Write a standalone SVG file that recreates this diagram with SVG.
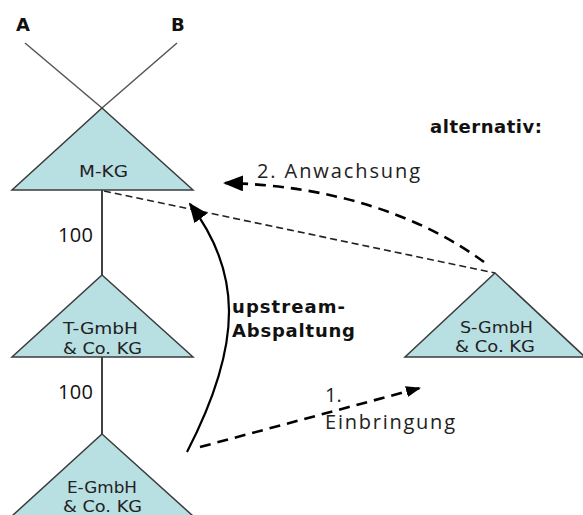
<svg xmlns="http://www.w3.org/2000/svg" width="583" height="515" viewBox="0 0 583 515">
<style>
.tri{fill:#b8dfe2;stroke:#3c3c3c;stroke-width:1.5}
.lbl{font-family:"DejaVu Sans","Liberation Sans",sans-serif;font-size:15px;fill:#222}
.num{font-family:"Open Sans","Liberation Sans",sans-serif;font-size:20px;fill:#111}
.bold{font-family:"DejaVu Sans","Liberation Sans",sans-serif;font-size:18px;font-weight:bold;fill:#111}
.note{font-family:"Open Sans","Liberation Sans",sans-serif;font-size:20px;fill:#222}
</style>
<defs>
<marker id="ah" markerWidth="20" markerHeight="16" refX="18" refY="8" orient="auto" markerUnits="userSpaceOnUse">
<path d="M0,0 L20,8 L0,16 Z" fill="#000"/>
</marker>
<marker id="ahs" markerWidth="15" markerHeight="11" refX="14" refY="5.5" orient="auto" markerUnits="userSpaceOnUse">
<path d="M0,0 L15,5.5 L0,11 Z" fill="#000"/>
</marker>
</defs>
<rect width="583" height="515" fill="#fff"/>
<g id="owners">
<line x1="25" y1="43" x2="102" y2="108" stroke="#555" stroke-width="1.5"/>
<line x1="177" y1="43" x2="102" y2="108" stroke="#555" stroke-width="1.5"/>
<text x="16" y="31" class="bold" font-size="17">A</text>
<text x="171" y="31" class="bold" font-size="17">B</text>
</g>
<g id="connectors">
<line x1="102" y1="190" x2="102" y2="275" stroke="#000" stroke-width="1.5"/>
<line x1="102" y1="357" x2="102" y2="434" stroke="#000" stroke-width="1.5"/>
<line x1="104" y1="191" x2="495" y2="273" stroke="#222" stroke-width="1.6" stroke-dasharray="7,4"/>
<path d="M484,262 C420,215 330,185 225,183" fill="none" stroke="#000" stroke-width="2.6" stroke-dasharray="11,7" marker-end="url(#ah)"/>
<path d="M187,452 C245,340 240,270 190,204" fill="none" stroke="#000" stroke-width="2.2" marker-end="url(#ah)"/>
<path d="M200,447 L420,388" fill="none" stroke="#000" stroke-width="2.6" stroke-dasharray="11,7" marker-end="url(#ahs)"/>
<text x="58" y="242" class="num" textLength="35">100</text>
<text x="58" y="399" class="num" textLength="35">100</text>
</g>
<g id="m-kg">
<polygon class="tri" points="102,108 193,190 12,190"/>
<text x="79" y="177" class="lbl" textLength="49" lengthAdjust="spacingAndGlyphs">M-KG</text>
</g>
<g id="t-gmbh">
<polygon class="tri" points="102,275 193,357 12,357"/>
<text x="63" y="334" class="lbl" textLength="75" lengthAdjust="spacingAndGlyphs">T-GmbH</text>
<text x="63" y="354" class="lbl" textLength="79" lengthAdjust="spacingAndGlyphs">&amp; Co. KG</text>
</g>
<g id="e-gmbh">
<polygon class="tri" points="102,434 193,516 12,516"/>
<text x="67" y="493" class="lbl" textLength="70" lengthAdjust="spacingAndGlyphs">E-GmbH</text>
<text x="63" y="512" class="lbl" textLength="79" lengthAdjust="spacingAndGlyphs">&amp; Co. KG</text>
</g>
<g id="s-gmbh">
<polygon class="tri" points="495,273 585,357 405,357"/>
<text x="460" y="333" class="lbl" textLength="73" lengthAdjust="spacingAndGlyphs">S-GmbH</text>
<text x="455" y="352" class="lbl" textLength="80" lengthAdjust="spacingAndGlyphs">&amp; Co. KG</text>
</g>
<g id="labels">
<text x="430" y="133" class="bold" font-size="17" textLength="112">alternativ:</text>
<text x="257" y="178" class="note" font-size="21" textLength="163">2. Anwachsung</text>
<text x="232" y="313" class="bold" textLength="113">upstream-</text>
<text x="232" y="337" class="bold" textLength="123">Abspaltung</text>
<text x="325" y="402" class="note">1.</text>
<text x="325" y="429" class="note" textLength="130">Einbringung</text>
</g>
</svg>
